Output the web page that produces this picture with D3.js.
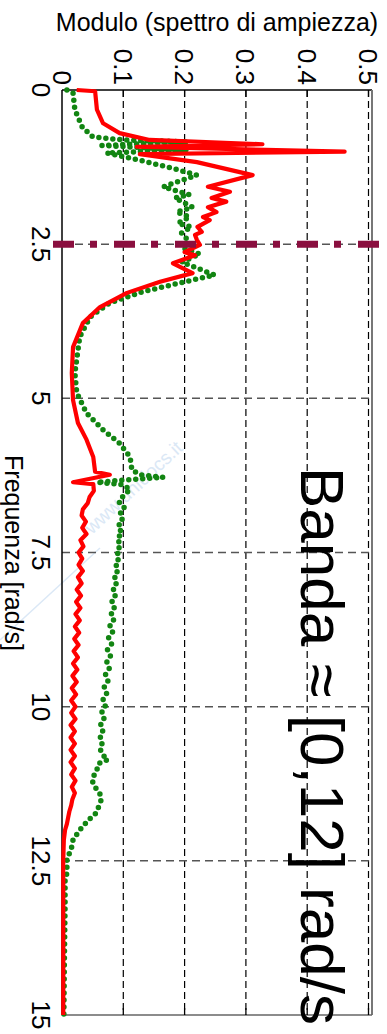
<!DOCTYPE html>
<html>
<head>
<meta charset="utf-8">
<script src="https://cdn.jsdelivr.net/npm/d3@7"></script>
<style>
  body { margin: 0; background: #fff; }
  svg { display: block; font-family: "Liberation Sans", Arial, sans-serif; }
</style>
</head>
<body>
<div id="chart"></div>
<script>
// Data: [frequency rad/s, amplitude]
const ampTicks = [0, 0.1, 0.2, 0.3, 0.4, 0.5];
const freqTicks = [0, 2.5, 5, 7.5, 10, 12.5, 15];
const freqTickLabels = ["0", "2.5", "5", "7.5", "10", "12.5", "15"];
const ampTickLabels = ["0", "0.1", "0.2", "0.3", "0.4", "0.5"];
const bandLimit = 2.5;
const bandText = "Banda \u2248 [0,12] rad/s";

const redSpectrum = [
  [0, 0.024], [0.02, 0.054], [0.32, 0.057], [0.54, 0.067], [0.70, 0.094], [0.81, 0.143],
  [0.88, 0.327], [0.92, 0.122], [1.00, 0.461], [1.04, 0.127], [1.17, 0.220], [1.38, 0.311],
  [1.57, 0.238], [1.65, 0.274], [1.75, 0.244], [1.81, 0.268], [1.90, 0.238], [1.98, 0.252],
  [2.06, 0.230], [2.11, 0.241], [2.22, 0.221], [2.30, 0.228], [2.35, 0.217], [2.43, 0.220],
  [2.51, 0.225], [2.63, 0.200], [2.68, 0.217], [2.81, 0.181], [2.97, 0.213], [3.11, 0.160],
  [3.29, 0.106], [3.52, 0.062], [3.78, 0.034], [4.17, 0.018], [4.59, 0.016], [5.03, 0.018],
  [5.40, 0.026], [5.67, 0.040], [5.95, 0.051], [6.19, 0.054], [6.24, 0.078], [6.36, 0.018],
  [6.39, 0.051], [6.50, 0.052], [6.60, 0.045], [6.70, 0.042], [6.80, 0.034], [6.90, 0.032],
  [7.00, 0.039], [7.10, 0.033], [7.20, 0.040], [7.30, 0.030], [7.40, 0.035], [7.50, 0.027],
  [7.60, 0.033], [7.70, 0.027], [7.80, 0.034], [7.90, 0.026], [8.00, 0.032], [8.10, 0.024],
  [8.20, 0.031], [8.30, 0.023], [8.40, 0.030], [8.50, 0.022], [8.60, 0.029], [8.70, 0.021],
  [8.80, 0.028], [8.90, 0.020], [9.00, 0.027], [9.10, 0.019], [9.20, 0.026], [9.30, 0.018],
  [9.40, 0.025], [9.50, 0.017], [9.60, 0.024], [9.70, 0.016], [9.80, 0.023], [9.90, 0.015],
  [10.0, 0.022], [10.1, 0.015], [10.2, 0.022], [10.3, 0.014], [10.4, 0.021], [10.5, 0.014],
  [10.6, 0.021], [10.7, 0.014], [10.8, 0.021], [10.9, 0.014], [11.0, 0.021], [11.1, 0.015],
  [11.2, 0.022], [11.3, 0.016], [11.4, 0.021], [11.5, 0.017], [11.6, 0.015], [11.7, 0.012],
  [11.8, 0.010], [11.9, 0.008], [12.0, 0.005], [12.16, 0.003], [12.5, 0.002], [13.0, 0.002],
  [14.0, 0.002], [15.0, 0.002]
];

const greenSpectrum = [
  [0, 0.008], [0.05, 0.018], [0.32, 0.021], [0.60, 0.033], [0.76, 0.050], [0.81, 0.100],
  [0.84, 0.205], [0.90, 0.065], [0.97, 0.205], [1.02, 0.073], [1.14, 0.127], [1.27, 0.181],
  [1.38, 0.220], [1.57, 0.165], [1.70, 0.208], [1.75, 0.184], [1.90, 0.213], [1.98, 0.187],
  [2.06, 0.208], [2.16, 0.189], [2.22, 0.211], [2.32, 0.195], [2.43, 0.205], [2.56, 0.197],
  [2.66, 0.225], [2.79, 0.195], [3.00, 0.249], [3.10, 0.205], [3.27, 0.132], [3.45, 0.078],
  [3.68, 0.046], [4.00, 0.029], [4.22, 0.026], [4.59, 0.021], [4.91, 0.024], [5.24, 0.040],
  [5.51, 0.067], [5.73, 0.094], [5.95, 0.111], [6.16, 0.114], [6.24, 0.127], [6.28, 0.165],
  [6.36, 0.057], [6.40, 0.100], [6.48, 0.111], [6.58, 0.100], [6.68, 0.093], [6.78, 0.102],
  [6.88, 0.094], [6.98, 0.099], [7.08, 0.091], [7.18, 0.098], [7.28, 0.090], [7.38, 0.096],
  [7.48, 0.089], [7.58, 0.094], [7.68, 0.087], [7.78, 0.092], [7.88, 0.085], [7.98, 0.090],
  [8.08, 0.083], [8.18, 0.088], [8.28, 0.081], [8.38, 0.086], [8.48, 0.080], [8.58, 0.085],
  [8.68, 0.078], [8.78, 0.083], [8.88, 0.076], [8.98, 0.081], [9.08, 0.074], [9.18, 0.079],
  [9.28, 0.073], [9.38, 0.077], [9.48, 0.071], [9.58, 0.075], [9.68, 0.069], [9.78, 0.073],
  [9.88, 0.067], [9.98, 0.071], [10.08, 0.065], [10.18, 0.069], [10.28, 0.063], [10.38, 0.067],
  [10.48, 0.062], [10.58, 0.066], [10.68, 0.062], [10.78, 0.066], [10.86, 0.075], [10.92, 0.060],
  [11.02, 0.057], [11.12, 0.052], [11.22, 0.050], [11.32, 0.055], [11.42, 0.062], [11.51, 0.064],
  [11.62, 0.060], [11.73, 0.055], [11.85, 0.042], [12.00, 0.029], [12.16, 0.018], [12.27, 0.016],
  [12.49, 0.008], [12.70, 0.008], [12.81, 0.005], [13.24, 0.005], [14.0, 0.004], [15.0, 0.003]
];

// Layout (chart is drawn rotated: frequency runs down, amplitude runs right)
const W = 387, H = 1034;
const plotLeft = 62, plotTop = 90, plotBottom = 1015, plotRight = 372;

const x = d3.scaleLinear().domain([0, 0.5]).range([plotLeft, 368.5]);
const y = d3.scaleLinear().domain([0, 15]).range([plotTop, plotBottom]);

const svg = d3.select("#chart").append("svg")
  .attr("width", W)
  .attr("height", H);

// faint watermark
svg.append("text")
  .attr("transform", "translate(92,535) rotate(-43)")
  .attr("font-size", 19)
  .attr("fill", "#dbe8f6")
  .text("www.unidocs.it");
svg.append("line")
  .attr("x1", 0).attr("y1", 640).attr("x2", 100).attr("y2", 548)
  .attr("stroke", "#dbe8f6").attr("stroke-width", 1.5);

// grid: vertical (amplitude) dashed black
svg.append("g").selectAll("line")
  .data(ampTicks.filter(d => d > 0))
  .join("line")
  .attr("x1", d => x(d)).attr("x2", d => x(d))
  .attr("y1", plotTop).attr("y2", plotBottom)
  .attr("stroke", "#000")
  .attr("stroke-width", 1.2)
  .attr("stroke-dasharray", "7,4");

// grid: horizontal (frequency) dashed grey
svg.append("g").selectAll("line")
  .data(freqTicks.filter(d => d > 0 && d < 15))
  .join("line")
  .attr("x1", plotLeft).attr("x2", plotRight)
  .attr("y1", d => y(d)).attr("y2", d => y(d))
  .attr("stroke", "#555")
  .attr("stroke-width", 1.5)
  .attr("stroke-dasharray", "8,5");

// frame
svg.append("line").attr("x1", plotLeft).attr("x2", plotRight).attr("y1", plotTop).attr("y2", plotTop)
  .attr("stroke", "#000").attr("stroke-width", 1.5);
svg.append("line").attr("x1", plotLeft).attr("x2", plotLeft).attr("y1", plotTop).attr("y2", plotBottom)
  .attr("stroke", "#000").attr("stroke-width", 1.5);
svg.append("line").attr("x1", plotRight).attr("x2", plotRight).attr("y1", plotTop).attr("y2", plotBottom)
  .attr("stroke", "#777").attr("stroke-width", 2);
svg.append("line").attr("x1", plotLeft).attr("x2", plotRight).attr("y1", plotBottom).attr("y2", plotBottom)
  .attr("stroke", "#666").attr("stroke-width", 1.5);

// inward ticks on top and bottom
const tickG = svg.append("g");
ampTicks.filter(d => d > 0).forEach(d => {
  tickG.append("line").attr("x1", x(d)).attr("x2", x(d)).attr("y1", plotTop).attr("y2", plotTop + 7)
    .attr("stroke", "#000").attr("stroke-width", 1.3);
  tickG.append("line").attr("x1", x(d)).attr("x2", x(d)).attr("y1", plotBottom - 7).attr("y2", plotBottom)
    .attr("stroke", "#000").attr("stroke-width", 1.3);
});

// spectra
const line = d3.line()
  .x(d => x(d[1]))
  .y(d => y(d[0]));

svg.append("path")
  .datum(greenSpectrum)
  .attr("d", line)
  .attr("fill", "none")
  .attr("stroke", "#128512")
  .attr("stroke-width", 5.5)
  .attr("stroke-linecap", "round")
  .attr("stroke-linejoin", "round")
  .attr("stroke-dasharray", "0,7");

svg.append("path")
  .datum(redSpectrum)
  .attr("d", line)
  .attr("fill", "none")
  .attr("stroke", "#ff0000")
  .attr("stroke-width", 4.2)
  .attr("stroke-linejoin", "round");

// band limit (dash-dot)
svg.append("line")
  .attr("x1", x(0) - 9).attr("x2", W)
  .attr("y1", y(bandLimit)).attr("y2", y(bandLimit))
  .attr("stroke", "#8a0f3f")
  .attr("stroke-width", 7)
  .attr("stroke-dasharray", "21,16,7,17");

// tick labels, rotated
svg.append("g").selectAll("text")
  .data(freqTicks)
  .join("text")
  .attr("transform", d => `translate(32,${y(d)}) rotate(90)`)
  .attr("text-anchor", "middle")
  .attr("font-size", 26)
  .attr("fill", "#000")
  .text((d, i) => freqTickLabels[i]);

svg.append("g").selectAll("text")
  .data(ampTicks)
  .join("text")
  .attr("transform", d => `translate(${x(d) - 9.5},85) rotate(90)`)
  .attr("text-anchor", "end")
  .attr("font-size", 26)
  .attr("fill", "#000")
  .text((d, i) => ampTickLabels[i]);

// axis titles
svg.append("text")
  .attr("x", 217).attr("y", 31)
  .attr("text-anchor", "middle")
  .attr("font-size", 25)
  .text("Modulo (spettro di ampiezza)");

svg.append("text")
  .attr("transform", "translate(5,553) rotate(90)")
  .attr("text-anchor", "middle")
  .attr("font-size", 25)
  .text("Frequenza [rad/s]");

// annotation
svg.append("text")
  .attr("transform", "translate(301,467) rotate(90)")
  .attr("font-size", 62)
  .attr("fill", "#000")
  .text(bandText);
</script>
</body>
</html>
